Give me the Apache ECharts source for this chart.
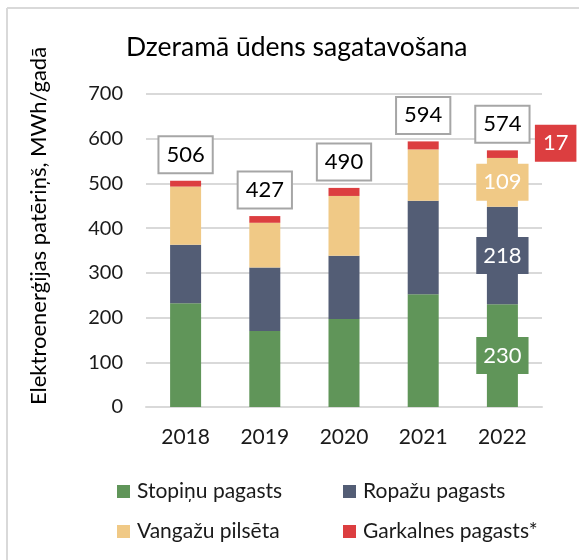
<!DOCTYPE html>
<html>
<head>
<meta charset="utf-8">
<script src="https://cdn.jsdelivr.net/npm/echarts@6/dist/echarts.min.js"></script>
<style>
html,body{margin:0;padding:0;background:#fff;}
#chart{width:579px;height:560px;}
</style>
</head>
<body>
<div id="chart"></div>
<script>
const categories = ['2018', '2019', '2020', '2021', '2022'];
const stopinu = [232, 170, 197, 252, 230];
const ropazu = [131, 142, 141, 209, 218];
const vangazu = [130, 100, 134, 115, 109];
const garkalnes = [13, 15, 18, 18, 17];
const totals = [506, 427, 490, 594, 574];
const yTicks = [0, 100, 200, 300, 400, 500, 600, 700];

const FONT = 'Lato';
const colors = ['#609559', '#535d75', '#f0c986', '#dc3e40'];
const names = ['Stopiņu pagasts', 'Ropažu pagasts', 'Vangažu pilsēta', 'Garkalnes pagasts*'];

function insideLabel(color) {
  return {
    show: true, position: 'inside', color: '#fff', fontFamily: FONT, fontSize: 22,
    lineHeight: 23, backgroundColor: color, padding: [7, 7]
  };
}

function makeData(arr, idx) {
  return arr.map((v, i) => {
    if (i !== 4) return v;
    let label;
    if (idx === 3) {
      label = {
        show: true, position: 'right', distance: 17, offset: [0, -11],
        color: '#fff', fontFamily: FONT, fontSize: 22, lineHeight: 23,
        backgroundColor: colors[3], padding: [7, 8]
      };
    } else {
      label = insideLabel(colors[idx]);
    }
    return { value: v, label: label };
  });
}

const seriesArrays = [stopinu, ropazu, vangazu, garkalnes];
const barSeries = seriesArrays.map((arr, idx) => ({
  name: names[idx],
  type: 'bar',
  stack: 'total',
  barWidth: 31,
  itemStyle: { color: colors[idx] },
  data: makeData(arr, idx),
  z: 2
}));

const legends = names.map((n, i) => ({
  data: [n],
  left: i % 2 === 0 ? 112 : 338,
  top: i < 2 ? 476 : 516,
  itemWidth: 13, itemHeight: 13, icon: 'rect',
  textStyle: { fontFamily: FONT, fontSize: 21, color: '#1a1a1a', padding: [0, 0, 0, 2] }
}));

const chart = echarts.init(document.getElementById('chart'));
chart.setOption({
  animation: false,
  backgroundColor: '#fff',
  title: {
    text: 'Dzeramā ūdens sagatavošana',
    left: 121, top: 29,
    textStyle: { fontFamily: FONT, fontSize: 26.5, fontWeight: 'normal', color: '#000' }
  },
  legend: legends,
  grid: { left: 146, right: 37, top: 94, bottom: 153 },
  xAxis: {
    type: 'category', data: categories,
    axisLine: { lineStyle: { color: '#d9d9d9', width: 2 } },
    axisTick: { show: false },
    axisLabel: { fontFamily: FONT, fontSize: 21, color: '#1a1a1a', margin: 20 }
  },
  yAxis: {
    type: 'value', min: 0, max: 700, interval: 100,
    axisLine: { show: false }, axisTick: { show: false },
    splitLine: { lineStyle: { color: '#d9d9d9', width: 2 } },
    axisLabel: {
      fontFamily: FONT, fontSize: 20, color: '#1a1a1a', margin: 23,
      formatter: v => yTicks.includes(v) ? String(v) : ''
    }
  },
  graphic: [
    { type: 'line', shape: { x1: 7, y1: 8, x2: 579, y2: 8 }, style: { stroke: '#d9d9d9', lineWidth: 2 } },
    { type: 'line', shape: { x1: 7, y1: 8, x2: 7, y2: 560 }, style: { stroke: '#d9d9d9', lineWidth: 2 } },
    {
      type: 'text', x: 39, y: 226, rotation: Math.PI / 2,
      style: {
        text: 'Elektroenerģijas patēriņš, MWh/gadā', fontFamily: FONT, fontSize: 22,
        fill: '#000', textAlign: 'center', textVerticalAlign: 'middle'
      }
    }
  ],
  series: barSeries.concat([{
    name: 'Kopā',
    type: 'line',
    data: totals,
    symbol: 'circle', symbolSize: 1,
    itemStyle: { color: 'rgba(0,0,0,0)' },
    lineStyle: { opacity: 0 },
    label: {
      show: true, position: 'top', distance: 8,
      fontFamily: FONT, fontSize: 22, lineHeight: 23, color: '#000',
      backgroundColor: '#fff', borderColor: '#a6a6a6', borderWidth: 2, padding: [6, 7]
    },
    z: 5
  }])
});
</script>
</body>
</html>
